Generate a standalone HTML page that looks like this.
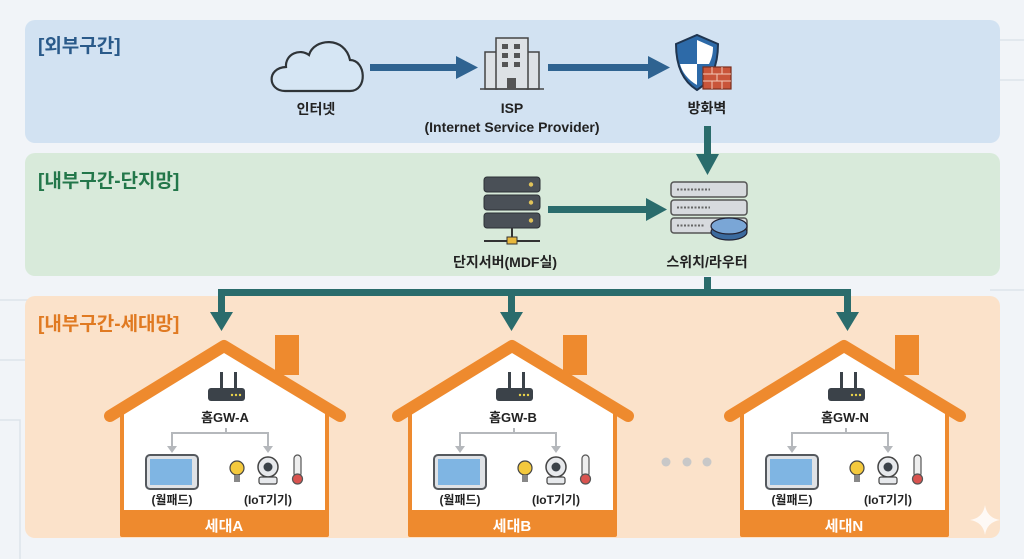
<!DOCTYPE html>
<html><head><meta charset="utf-8"><style>
html,body{margin:0;padding:0;background:#f1f4f8;}
svg{display:block}
text{font-family:"Liberation Sans","Noto Sans CJK KR",sans-serif;}
</style></head><body>
<svg width="1024" height="559" viewBox="0 0 1024 559" xmlns="http://www.w3.org/2000/svg">
<defs>
<g id="house">
  <rect x="51" y="-5" width="24" height="40" fill="#ee8a2e"/>
  <polygon points="-102,72 0,10 103,72 103,195 -102,195" fill="#fff" stroke="#ee8a2e" stroke-width="4" stroke-linejoin="round"/>
  <polyline points="-114,76 0,6 116,76" fill="none" stroke="#ee8a2e" stroke-width="12" stroke-linecap="round" stroke-linejoin="round"/>
  <rect x="-104" y="170" width="209" height="27" rx="3" fill="#ee8a2e"/>
  <rect x="-4" y="32" width="3" height="18" fill="#3b4249"/>
  <rect x="10" y="32" width="3" height="18" fill="#3b4249"/>
  <rect x="-16" y="48" width="37" height="13" rx="3" fill="#3b4249"/>
  <circle cx="8" cy="55" r="1.2" fill="#e8d24a"/><circle cx="12" cy="55" r="1.2" fill="#e8d24a"/><circle cx="16" cy="55" r="1.2" fill="#e8d24a"/>
  <polyline points="2,88 2,93 -52,93 -52,108" fill="none" stroke="#b5b8bc" stroke-width="2"/>
  <polyline points="2,93 44,93 44,108" fill="none" stroke="#b5b8bc" stroke-width="2"/>
  <polygon points="-57,106 -47,106 -52,113" fill="#b5b8bc"/>
  <polygon points="39,106 49,106 44,113" fill="#b5b8bc"/>
  <rect x="-78" y="115" width="52" height="34" rx="4" fill="#dfe2e6" stroke="#55595e" stroke-width="2"/>
  <rect x="-74" y="119" width="42" height="26" fill="#7fb5e3"/>
  <circle cx="13" cy="128" r="7" fill="#f4c93d" stroke="#444" stroke-width="1.2"/>
  <rect x="10" y="135" width="6" height="7" fill="#888"/>
  <circle cx="44" cy="127" r="10" fill="#e7e9ec" stroke="#444" stroke-width="1.5"/>
  <circle cx="44" cy="127" r="4.5" fill="#3b4249"/>
  <rect x="35" y="137" width="18" height="7" rx="2" fill="#e7e9ec" stroke="#444" stroke-width="1.2"/>
  <rect x="70" y="115" width="7" height="22" rx="3.5" fill="#eee" stroke="#555" stroke-width="1.2"/>
  <circle cx="73.5" cy="139" r="5" fill="#d9534f" stroke="#555" stroke-width="1.2"/>
</g>
</defs>
<g stroke="#dde3ea" stroke-width="1.5" fill="none">
<path d="M0,300 H60 L80,320 V420"/><path d="M0,360 H40 L60,380 V460"/><path d="M0,420 H20 V559"/>
<path d="M1024,40 H960 L940,60"/><path d="M1024,80 H980 L960,100 H930"/><path d="M1024,290 H990"/>
</g>
<rect x="25" y="20" width="975" height="123" rx="10" fill="#d2e2f2"/>
<rect x="25" y="153" width="975" height="123" rx="10" fill="#d8eada"/>
<rect x="25" y="296" width="975" height="242" rx="10" fill="#fbe2ca"/>
<text x="38" y="52" font-size="19" font-weight="bold" fill="#2a5a8a">[외부구간]</text>
<text x="38" y="187" font-size="19" font-weight="bold" fill="#23774a">[내부구간-단지망]</text>
<text x="38" y="330" font-size="19" font-weight="bold" fill="#e07a22">[내부구간-세대망]</text>
<path d="M285,91 C268,91 266,68 286,67 C285,54 300,48 309,55 C314,38 345,36 350,60 C366,60 368,91 350,91 Z" fill="#d6e6f4" stroke="#2f3438" stroke-width="2.2"/>
<text x="316" y="114" font-size="14" font-weight="bold" fill="#222" text-anchor="middle">인터넷</text>
<g fill="#2f6391"><rect x="370" y="64" width="88" height="7"/><polygon points="456,56 478,67.5 456,79"/>
<rect x="548" y="64" width="102" height="7"/><polygon points="648,56 670,67.5 648,79"/></g>
<g stroke="#444" stroke-width="1.5" fill="#dde1e5">
<rect x="485" y="52" width="12" height="37"/><rect x="527" y="52" width="12" height="37"/><rect x="496" y="38" width="32" height="51"/>
<line x1="480" y1="89" x2="544" y2="89"/></g>
<g fill="#555"><rect x="502" y="44" width="6" height="5"/><rect x="514" y="44" width="6" height="5"/><rect x="502" y="53" width="6" height="5"/><rect x="514" y="53" width="6" height="5"/><rect x="502" y="62" width="6" height="5"/><rect x="514" y="62" width="6" height="5"/><rect x="507" y="78" width="9" height="11"/></g>
<text x="512" y="113" font-size="14" font-weight="bold" fill="#222" text-anchor="middle">ISP</text>
<text x="512" y="132" font-size="14" font-weight="bold" fill="#222" text-anchor="middle">(Internet Service Provider)</text>
<path d="M676,44 L697,35 L718,44 C718,68 710,82 697,90 C684,82 676,68 676,44 Z" fill="#2d6aa8" stroke="#1f3550" stroke-width="2"/>
<path d="M697,40 L713,47 C713,55 711,60 709,64 L697,64 Z" fill="#fff"/>
<path d="M680,64 L697,64 L697,85 C688,80 682,72 680,64Z" fill="#fff"/>
<rect x="703" y="67" width="28" height="22" fill="#c9553a" stroke="#7a2e1e" stroke-width="1.2"/>
<g stroke="#f3c9b8" stroke-width="1"><line x1="703" y1="74" x2="731" y2="74"/><line x1="703" y1="81" x2="731" y2="81"/><line x1="712" y1="67" x2="712" y2="74"/><line x1="722" y1="67" x2="722" y2="74"/><line x1="717" y1="74" x2="717" y2="81"/><line x1="712" y1="81" x2="712" y2="89"/><line x1="722" y1="81" x2="722" y2="89"/></g>
<text x="707" y="113" font-size="14" font-weight="bold" fill="#222" text-anchor="middle">방화벽</text>
<g fill="#2a6c6c"><rect x="704" y="126" width="7" height="30"/><polygon points="696,154 719,154 707.5,175"/></g>
<g fill="#4a5057" stroke="#2c3136" stroke-width="1">
<rect x="484" y="177" width="56" height="15" rx="3"/><rect x="484" y="195" width="56" height="15" rx="3"/><rect x="484" y="213" width="56" height="15" rx="3"/></g>
<g fill="#e0c35a"><circle cx="531" cy="184.5" r="2.2"/><circle cx="531" cy="202.5" r="2.2"/><circle cx="531" cy="220.5" r="2.2"/></g>
<line x1="512" y1="228" x2="512" y2="240" stroke="#333" stroke-width="2"/><line x1="484" y1="241" x2="540" y2="241" stroke="#333" stroke-width="2"/>
<rect x="507" y="237" width="10" height="7" fill="#e8b83d" stroke="#333"/>
<text x="505" y="267" font-size="14" font-weight="bold" fill="#222" text-anchor="middle">단지서버(MDF실)</text>
<g fill="#2a6c6c"><rect x="548" y="206" width="100" height="7"/><polygon points="646,198 667,209.5 646,221"/></g>
<g fill="#d7dade" stroke="#555" stroke-width="1.5">
<rect x="671" y="182" width="76" height="15" rx="3"/><rect x="671" y="200" width="76" height="15" rx="3"/><rect x="671" y="218" width="76" height="15" rx="3"/></g>
<g stroke="#666" stroke-width="2" stroke-dasharray="2,1.5"><line x1="677" y1="189.5" x2="710" y2="189.5"/><line x1="677" y1="207.5" x2="710" y2="207.5"/><line x1="677" y1="225.5" x2="705" y2="225.5"/></g>
<ellipse cx="729" cy="232" rx="18" ry="8" fill="#3b6a9e" stroke="#223" stroke-width="1.2"/>
<ellipse cx="729" cy="226" rx="18" ry="8" fill="#7aa6d6" stroke="#223" stroke-width="1.2"/>
<text x="707" y="267" font-size="14" font-weight="bold" fill="#222" text-anchor="middle">스위치/라우터</text>
<g fill="#2a6c6c">
<rect x="704" y="277" width="7" height="19"/>
<rect x="218" y="289" width="633" height="7"/>
<rect x="218" y="289" width="7" height="25"/><polygon points="210,312 233,312 221.5,331"/>
<rect x="508" y="289" width="7" height="25"/><polygon points="500,312 523,312 511.5,331"/>
<rect x="844" y="289" width="7" height="25"/><polygon points="836,312 859,312 847.5,331"/>
</g>
<use href="#house" transform="translate(224,340)"/>
<use href="#house" transform="translate(512,340)"/>
<use href="#house" transform="translate(844,340)"/>
<g font-size="13" font-weight="bold" fill="#222" text-anchor="middle">
<text x="225" y="422">홈GW-A</text><text x="513" y="422">홈GW-B</text><text x="845" y="422">홈GW-N</text>
<text x="172" y="504" font-size="12">(월패드)</text><text x="268" y="504" font-size="12">(IoT기기)</text>
<text x="460" y="504" font-size="12">(월패드)</text><text x="556" y="504" font-size="12">(IoT기기)</text>
<text x="792" y="504" font-size="12">(월패드)</text><text x="888" y="504" font-size="12">(IoT기기)</text>
</g>
<g font-size="15" font-weight="bold" fill="#fff" text-anchor="middle">
<text x="224" y="531">세대A</text><text x="512" y="531">세대B</text><text x="844" y="531">세대N</text></g>
<g fill="#c8c8c8"><circle cx="666" cy="462" r="4.5"/><circle cx="687" cy="462" r="4.5"/><circle cx="707" cy="462" r="4.5"/></g>
<path d="M985,505 Q987,518 1000,520 Q987,522 985,535 Q983,522 970,520 Q983,518 985,505Z" fill="#fff" opacity="0.8"/>
</svg>
</body></html>
